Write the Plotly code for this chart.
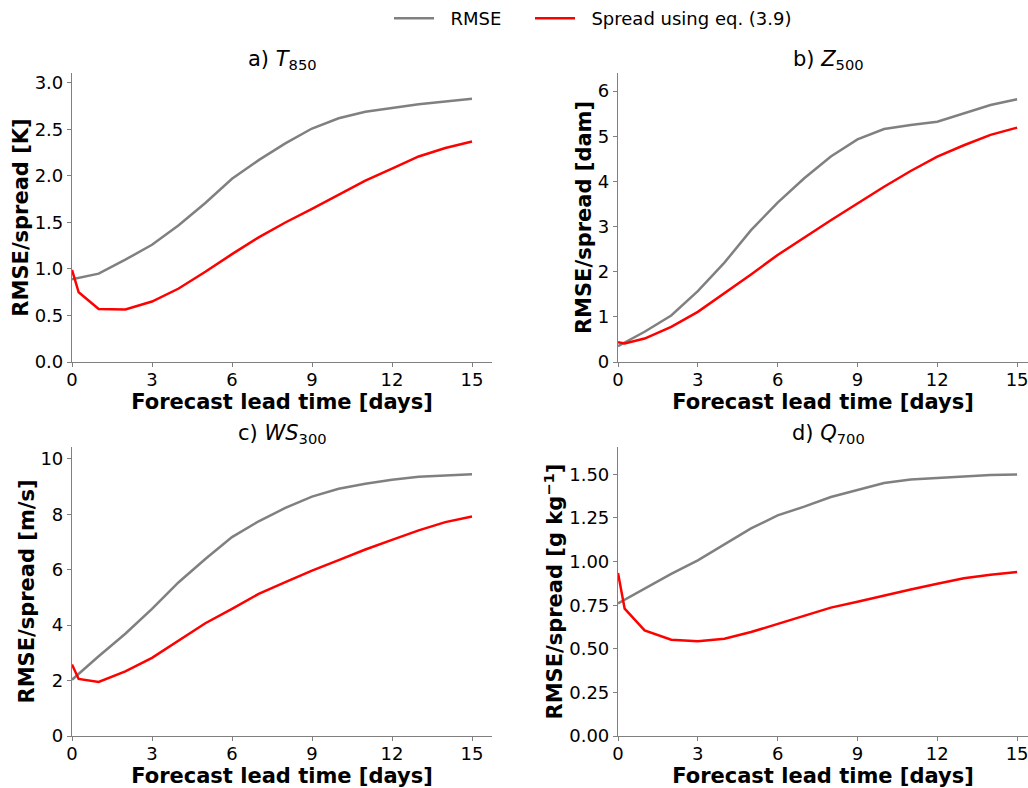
import plotly.graph_objects as go

lead_rmse = [0, 1, 2, 3, 4, 5, 6, 7, 8, 9, 10, 11, 12, 13, 14, 15]
lead_spread = [0, 0.25, 1, 2, 3, 4, 5, 6, 7, 8, 9, 10, 11, 12, 13, 14, 15]

t850_rmse = [0.89, 0.95, 1.10, 1.26, 1.47, 1.71, 1.97, 2.17, 2.35, 2.51, 2.62, 2.69, 2.73, 2.77, 2.80, 2.83]
t850_spread = [0.99, 0.75, 0.57, 0.565, 0.65, 0.79, 0.97, 1.16, 1.34, 1.50, 1.645, 1.80, 1.95, 2.08, 2.21, 2.30, 2.37]

z500_rmse = [0.35, 0.67, 1.03, 1.57, 2.20, 2.92, 3.53, 4.07, 4.55, 4.93, 5.16, 5.25, 5.32, 5.51, 5.69, 5.82]
z500_spread = [0.44, 0.41, 0.52, 0.78, 1.11, 1.52, 1.94, 2.37, 2.76, 3.14, 3.51, 3.88, 4.23, 4.55, 4.80, 5.03, 5.19]

ws300_rmse = [2.03, 2.88, 3.69, 4.59, 5.55, 6.39, 7.18, 7.75, 8.23, 8.64, 8.92, 9.10, 9.25, 9.36, 9.40, 9.45]
ws300_spread = [2.58, 2.06, 1.95, 2.33, 2.82, 3.43, 4.07, 4.59, 5.13, 5.55, 5.97, 6.35, 6.73, 7.08, 7.42, 7.72, 7.92]

q700_rmse = [0.76, 0.845, 0.93, 1.007, 1.10, 1.19, 1.265, 1.315, 1.37, 1.41, 1.45, 1.47, 1.48, 1.49, 1.496, 1.50]
q700_spread = [0.935, 0.73, 0.606, 0.552, 0.543, 0.558, 0.596, 0.644, 0.692, 0.736, 0.77, 0.806, 0.84, 0.873, 0.904, 0.925, 0.94]

titles = ["a) <i>T</i><sub>850</sub>", "b) <i>Z</i><sub>500</sub>",
          "c) <i>WS</i><sub>300</sub>", "d) <i>Q</i><sub>700</sub>"]
ylabels = ["RMSE/spread [K]", "RMSE/spread [dam]", "RMSE/spread [m/s]",
           "RMSE/spread [g kg<sup>−1</sup>]"]
xlabel = "Forecast lead time [days]"
xticks = [0, 3, 6, 9, 12, 15]
legend_names = ["RMSE", "Spread using eq. (3.9)"]

W, H = 1028, 788
GRAY = "#808080"
RED = "#ff0000"
SPINE = "#808080"
FONT = "DejaVu Sans"

def px(x):
    return x / W

def py(y):
    return 1 - y / H

panels = [
    dict(rmse=t850_rmse, spread=t850_spread, xd=[px(72), px(492)], yd=[py(362), py(73)],
         xr=[0, 15.75], yr=[0, 3.107], yt=[0, 0.5, 1.0, 1.5, 2.0, 2.5, 3.0], fmt=".1f", tx=282),
    dict(rmse=z500_rmse, spread=z500_spread, xd=[px(618), 1.0], yd=[py(362), py(73)],
         xr=[0, 15.41], yr=[0, 6.4], yt=[0, 1, 2, 3, 4, 5, 6], fmt="d", tx=828),
    dict(rmse=ws300_rmse, spread=ws300_spread, xd=[px(72), px(492)], yd=[py(736), py(447)],
         xr=[0, 15.75], yr=[0, 10.43], yt=[0, 2, 4, 6, 8, 10], fmt="d", tx=282),
    dict(rmse=q700_rmse, spread=q700_spread, xd=[px(618), 1.0], yd=[py(736), py(447)],
         xr=[0, 15.41], yr=[0, 1.657], yt=[0, 0.25, 0.5, 0.75, 1.0, 1.25, 1.5], fmt=".2f", tx=828),
]

legend_style = dict(orientation="h", y=1.0, xanchor="left", yanchor="top",
                    font=dict(size=18, family=FONT, color="black"), itemwidth=40,
                    bgcolor="rgba(0,0,0,0)")

fig = go.Figure()
layout = dict(
    width=W, height=H, margin=dict(l=0, r=0, t=0, b=0, autoexpand=False),
    paper_bgcolor="white", plot_bgcolor="white",
    font=dict(family=FONT, size=18, color="black"),
    showlegend=True,
    legend=dict(x=px(389), **legend_style),
    legend2=dict(x=px(530), **legend_style),
)
annotations = []
for i, p in enumerate(panels):
    sfx = "" if i == 0 else str(i + 1)
    xa, ya = "x" + sfx, "y" + sfx
    fig.add_trace(go.Scatter(x=lead_rmse, y=p["rmse"], mode="lines",
                             name="\u00a0\u00a0" + legend_names[0], legend="legend",
                             line=dict(color=GRAY, width=2.5), xaxis=xa, yaxis=ya,
                             showlegend=(i == 0), cliponaxis=False))
    fig.add_trace(go.Scatter(x=lead_spread, y=p["spread"], mode="lines",
                             name="\u00a0\u00a0" + legend_names[1], legend="legend2",
                             line=dict(color=RED, width=2.5), xaxis=xa, yaxis=ya,
                             showlegend=(i == 0), cliponaxis=False))
    layout["xaxis" + sfx] = dict(
        domain=p["xd"], range=p["xr"], anchor=ya, tickvals=xticks, automargin=False,
        showline=True, linecolor=SPINE, linewidth=1.2, ticks="outside", ticklen=4,
        tickcolor=SPINE, showgrid=False, zeroline=False, ticklabeloverflow="allow",
        ticklabelstandoff=-3,
        tickfont=dict(size=18, family=FONT),
        title=dict(text="<b>" + xlabel + "</b>", font=dict(size=21, family=FONT), standoff=0),
    )
    layout["yaxis" + sfx] = dict(
        domain=p["yd"], range=p["yr"], anchor=xa, tickvals=p["yt"], tickformat=p["fmt"],
        automargin=False,
        showline=True, linecolor=SPINE, linewidth=1.2, ticks="outside", ticklen=4,
        tickcolor=SPINE, showgrid=False, zeroline=False, ticklabeloverflow="allow",
        tickfont=dict(size=18, family=FONT),
        title=dict(text="<b>" + ylabels[i] + "</b>", font=dict(size=21, family=FONT), standoff=0),
    )
    annotations.append(dict(text=titles[i], x=px(p["tx"]),
                            y=p["yd"][1], xref="paper", yref="paper", xanchor="center",
                            yanchor="bottom", showarrow=False, yshift=-2,
                            font=dict(size=21, family=FONT)))
layout["annotations"] = annotations
fig.update_layout(**layout)
fig.write_html("out.html")
